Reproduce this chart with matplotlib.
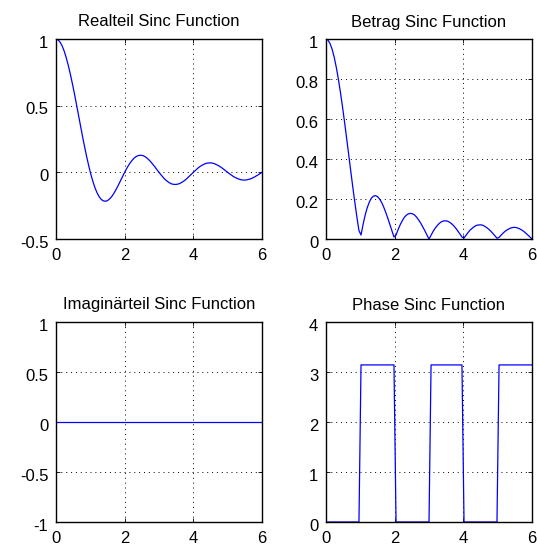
import numpy as np
import matplotlib
matplotlib.use("Agg")
import matplotlib.pyplot as plt
import matplotlib.transforms as mtransforms
from matplotlib.ticker import FuncFormatter

# Abtastpunkte (Schrittweite 0.06) und Werte der Sinc-Funktion
x = [round(0.06 * k, 2) for k in range(101)]
realteil = [
    1.000, 0.994, 0.976, 0.948, 0.908, 0.858, 0.800, 0.734, 0.662, 0.585,
    0.505, 0.423, 0.341, 0.260, 0.183, 0.109, 0.042, -0.020, -0.073, -0.119,
    -0.156, -0.184, -0.204, -0.214, -0.217, -0.212, -0.200, -0.183, -0.160, -0.133,
    -0.104, -0.073, -0.041, -0.010, 0.020, 0.047, 0.071, 0.091, 0.108, 0.119,
    0.126, 0.128, 0.126, 0.120, 0.109, 0.095, 0.079, 0.060, 0.041, 0.020,
    0.000, -0.019, -0.038, -0.054, -0.067, -0.078, -0.086, -0.090, -0.091, -0.089,
    -0.084, -0.076, -0.066, -0.054, -0.040, -0.025, -0.010, 0.005, 0.019, 0.033,
    0.045, 0.054, 0.062, 0.068, 0.070, 0.071, 0.069, 0.064, 0.057, 0.049,
    0.039, 0.028, 0.016, 0.004, -0.008, -0.019, -0.030, -0.039, -0.046, -0.052,
    -0.056, -0.058, -0.058, -0.055, -0.051, -0.045, -0.038, -0.029, -0.020, -0.010,
    -0.000,
]
imaginaerteil = [0.0] * len(x)

titles = ["Realteil Sinc Function", "Betrag Sinc Function",
          "Imaginärteil Sinc Function", "Phase Sinc Function"]
x_ticks = [0, 2, 4, 6]
y_limits = [(-0.5, 1), (0, 1), (-1, 1), (0, 4)]
y_ticks = [[-0.5, 0, 0.5, 1],
           [0, 0.2, 0.4, 0.6, 0.8, 1],
           [-1, -0.5, 0, 0.5, 1],
           [0, 1, 2, 3, 4]]

re = np.array(realteil)
im = np.array(imaginaerteil)
betrag = np.abs(re + 1j * im)
phase = np.angle(re)  # Imaginaerteil ist null
series = [re, betrag, im, phase]

plt.rcParams['font.family'] = ['Liberation Sans', 'DejaVu Sans']
fig = plt.figure(figsize=(5.37, 5.5), dpi=100)

W, H = 537, 550
lefts = [56, 326, 56, 326]
bottoms = [239, 239, 522, 522]
fmt = FuncFormatter(lambda v, p: ("%g" % v))
shift = mtransforms.ScaledTranslation(0, -2.0 / 72, fig.dpi_scale_trans)

for i in range(4):
    ax = fig.add_axes([lefts[i] / W, 1 - bottoms[i] / H, 206 / W, 200 / H])
    ax.plot(x, series[i], color=(0, 0, 1), lw=0.9)
    ax.set_xlim(0, 6)
    ax.set_ylim(*y_limits[i])
    ax.set_xticks(x_ticks)
    ax.set_yticks(y_ticks[i])
    ax.xaxis.set_major_formatter(fmt)
    ax.yaxis.set_major_formatter(fmt)
    ax.tick_params(direction='in', length=3, width=0.6, top=True, right=True,
                   labelsize=12, colors='black')
    ax.tick_params(axis='x', pad=6.5)
    ax.tick_params(axis='y', pad=5.5)
    for lab in ax.get_yticklabels():
        lab.set_transform(lab.get_transform() + shift)
    ax.grid(True, color='black', linestyle=(0, (1, 4)), linewidth=0.7)
    for s in ax.spines.values():
        s.set_linewidth(1.0)
    ax.set_title(titles[i], fontsize=12, pad=9)

fig.savefig("out.png", dpi=100)
